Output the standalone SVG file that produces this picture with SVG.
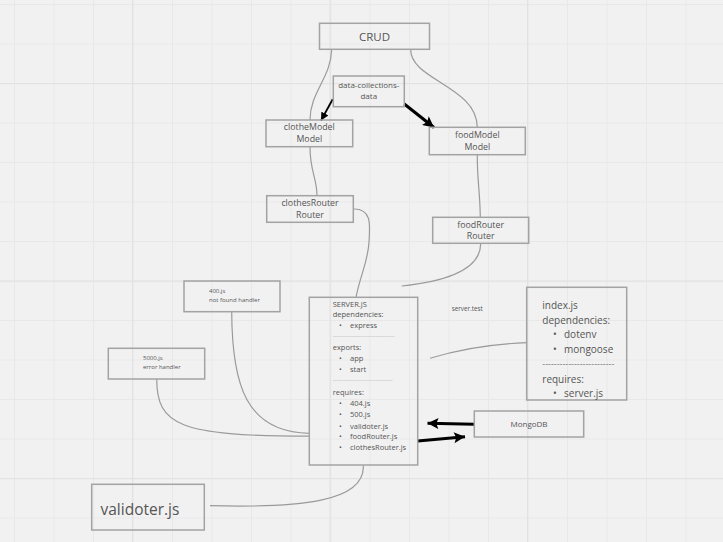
<svg xmlns="http://www.w3.org/2000/svg" width="723" height="542" viewBox="0 0 723 542">
<defs>
<pattern id="minor" x="14" y="4" width="39.5" height="39.5" patternUnits="userSpaceOnUse">
<path d="M0.5,0 V39.5 M0,0.5 H39.5" stroke="#e8e8e8" stroke-width="1" fill="none"/>
</pattern>
<pattern id="major" x="132" y="83" width="197.5" height="197.5" patternUnits="userSpaceOnUse">
<path d="M0.5,0 V197.5 M0,0.5 H197.5" stroke="#e2e2e2" stroke-width="1.5" fill="none"/>
</pattern>
<marker id="head" viewBox="0 0 10 10" refX="10" refY="5" markerWidth="13" markerHeight="11" markerUnits="userSpaceOnUse" orient="auto">
<path d="M0,0 L10,5 L0,10 L2,5 z" fill="#000"/>
</marker>
<marker id="headS" viewBox="0 0 10 10" refX="10" refY="5" markerWidth="8" markerHeight="8" markerUnits="userSpaceOnUse" orient="auto">
<path d="M0,0 L10,5 L0,10 z" fill="#000"/>
</marker>
</defs>
<style>
.box{fill:none;stroke:#a3a3a3;stroke-width:1.5}
.t{font-family:"Open Sans","Liberation Sans",sans-serif;fill:#555}
.c{text-anchor:middle}
.con{fill:none;stroke:#9a9a9a;stroke-width:1.2}
.arr{fill:none;stroke:#000}
.dash{fill:#aaa}
</style>
<rect width="723" height="542" fill="#f1f1f1"/>
<rect width="723" height="542" fill="url(#minor)"/>
<rect width="723" height="542" fill="url(#major)"/>

<g id="connectors">
<path class="con" d="M331.7,49.3 C331,78 310,92 310,120"/>
<path class="con" d="M310,146.7 C310,172 317,178 317,195.7"/>
<path class="con" d="M410.7,49.3 C410,80 477,86 477.3,127.3"/>
<path class="con" d="M477.3,154.7 C477,178 480,192 480.3,217.3"/>
<path class="con" d="M354,209 C372,209 370,225 369,242 C368,262 360,276 356,297.3"/>
<path class="con" d="M480.7,243.3 C481,272 440,282 401.7,286"/>
<path class="con" d="M231.7,311.7 C232,385 246,432 309.3,433.3"/>
<path class="con" d="M156.7,379 C157,425 178,436 309.3,436.2"/>
<path class="con" d="M526.7,342.7 C490,344 460,349 430,358.3"/>
<path class="con" d="M363.3,465.7 C365,502 300,508 210,505.7"/>
<line class="arr" x1="332.7" y1="99.3" x2="321" y2="120.5" stroke-width="1.8" marker-end="url(#headS)"/>
<line class="arr" x1="404.3" y1="104" x2="434" y2="127.5" stroke-width="3" marker-end="url(#head)"/>
<line class="arr" x1="474.3" y1="424.3" x2="427.5" y2="423.3" stroke-width="3" marker-end="url(#head)"/>
<line class="arr" x1="417.7" y1="441" x2="465" y2="436.7" stroke-width="3" marker-end="url(#head)"/>
</g>

<g id="crud">
<rect class="box" x="319.5" y="23.3" width="110" height="26"/>
<text class="t c" x="374.5" y="40.5" font-size="11.5">CRUD</text>
</g>
<g id="data-collections">
<rect class="box" x="333.3" y="76" width="71" height="30.7"/>
<text class="t c" x="368.8" y="88" font-size="8">data-collections-</text>
<text class="t c" x="368.8" y="99" font-size="8">data</text>
</g>
<g id="clotheModel">
<rect class="box" x="266" y="120" width="86.7" height="26.7"/>
<text class="t c" x="309.3" y="130.3" font-size="8.8">clotheModel</text>
<text class="t c" x="309.3" y="142.2" font-size="8.8">Model</text>
</g>
<g id="foodModel">
<rect class="box" x="429.3" y="127.3" width="96" height="27.4"/>
<text class="t c" x="477.3" y="138.3" font-size="8.8">foodModel</text>
<text class="t c" x="477.3" y="150" font-size="8.8">Model</text>
</g>
<g id="clothesRouter">
<rect class="box" x="266.7" y="195.7" width="86.6" height="26.6"/>
<text class="t c" x="310" y="206.3" font-size="8.8">clothesRouter</text>
<text class="t c" x="310" y="218" font-size="8.8">Router</text>
</g>
<g id="foodRouter">
<rect class="box" x="432.7" y="217.3" width="96" height="26"/>
<text class="t c" x="480.7" y="227.5" font-size="8.8">foodRouter</text>
<text class="t c" x="480.7" y="239.3" font-size="8.8">Router</text>
</g>
<g id="notFound">
<rect class="box" x="184" y="281" width="96" height="30.7"/>
<text class="t" x="209" y="293" font-size="6">400.js</text>
<text class="t" x="209" y="302" font-size="6">not found handler</text>
</g>
<g id="errorHandler">
<rect class="box" x="108.3" y="348.3" width="96.4" height="30.7"/>
<text class="t" x="143" y="360" font-size="6">5000.js</text>
<text class="t" x="143" y="369" font-size="6">error handler</text>
</g>
<g id="server">
<rect class="box" x="309.3" y="297.3" width="108.4" height="167.7"/>
<g class="t" font-size="7.5">
<text x="332.7" y="306.8">SERVER.JS</text>
<text x="332.7" y="317.3">dependencies:</text>
<text x="339" y="328">•</text><text x="350" y="328">express</text>
<text class="dash" x="332.7" y="337.5" font-size="6" textLength="62" lengthAdjust="spacingAndGlyphs">-----------------------------</text>
<text x="332.7" y="349.7">exports:</text>
<text x="339" y="361.3">•</text><text x="350" y="361.3">app</text>
<text x="339" y="372.3">•</text><text x="350" y="372.3">start</text>
<text class="dash" x="332.7" y="381.8" font-size="6" textLength="60" lengthAdjust="spacingAndGlyphs">----------------------------</text>
<text x="332.7" y="395.3">requires:</text>
<text x="339" y="406.3">•</text><text x="350" y="406.3">404.js</text>
<text x="339" y="417.3">•</text><text x="350" y="417.3">500.js</text>
<text x="339" y="428.7">•</text><text x="350" y="428.7">validoter.js</text>
<text x="339" y="439.3">•</text><text x="350" y="439.3">foodRouter.js</text>
<text x="339" y="450">•</text><text x="350" y="450">clothesRouter.js</text>
</g>
</g>
<g id="serverTest">
<text class="t" x="451.7" y="310.5" font-size="6.3">server.test</text>
</g>
<g id="index">
<rect class="box" x="526.7" y="287.3" width="100" height="112.7"/>
<g class="t" font-size="10">
<text x="542.3" y="308.5">index.js</text>
<text x="542.3" y="323.5">dependencies:</text>
<text x="553" y="337.8">•</text><text x="564" y="337.8">dotenv</text>
<text x="553" y="352.5">•</text><text x="564" y="352.5">mongoose</text>
<text x="542.3" y="366" font-size="8" textLength="72" lengthAdjust="spacingAndGlyphs">-------------------------</text>
<text x="542.3" y="382.5">requires:</text>
<text x="553" y="396.8">•</text><text x="564" y="396.8">server.js</text>
</g>
</g>
<g id="mongodb">
<rect class="box" x="474.3" y="411" width="109.4" height="26"/>
<text class="t c" x="529" y="427" font-size="8">MongoDB</text>
</g>
<g id="validoter">
<rect class="box" x="91.7" y="484.3" width="112.6" height="45.7"/>
<text class="t" x="100.5" y="514.5" font-size="15.5">validoter.js</text>
</g>
</svg>
